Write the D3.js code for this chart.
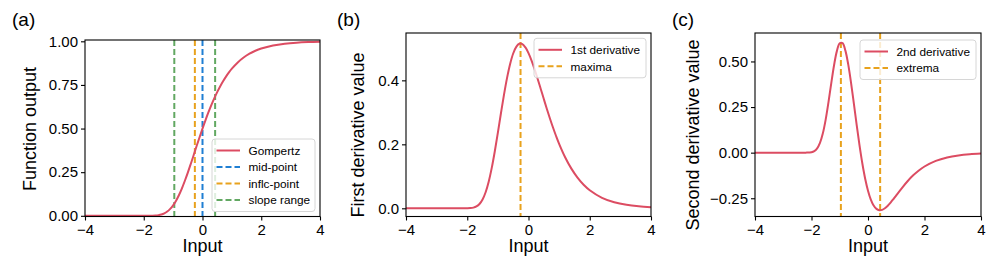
<html>
<head>
<meta charset="utf-8">
<script src="https://d3js.org/d3.v7.min.js"></script>
<style>
  body { margin: 0; background: #fff; }
  text { font-family: "Liberation Sans", Arial, sans-serif; fill: #000; }
  .tick line, .domain { stroke: #000; }
</style>
</head>
<body>
<svg id="chart" width="996" height="266"></svg>
<script>
// sampled input values (denser where the curves bend)
const xs = [-4, -3.6, -3.2, -2.8, -2.4, -2.2, -2.0, -1.9, -1.8, -1.7, -1.6, -1.5, -1.4, -1.3, -1.2, -1.1,
  -1.0, -0.9, -0.8, -0.7, -0.6, -0.5, -0.4, -0.3, -0.2, -0.1, 0, 0.1, 0.2, 0.3, 0.4, 0.5, 0.6, 0.7, 0.8, 0.9,
  1.0, 1.2, 1.4, 1.6, 1.8, 2.0, 2.4, 2.8, 3.2, 3.6, 4.0];

const gompertz = [0, 0, 0, 0, 0, 0.0000003, 0.0000112, 0.0000497, 0.000181, 0.000559, 0.00149, 0.00348, 0.00729, 0.01387, 0.02426, 0.03944,
  0.06016, 0.08685, 0.1195, 0.1577, 0.2008, 0.2476, 0.2972, 0.3482, 0.3997, 0.4505, 0.5, 0.5474, 0.5922, 0.6342, 0.6731, 0.7088, 0.7414, 0.7709, 0.7976, 0.8215,
  0.8429, 0.8788, 0.9070, 0.9289, 0.9458, 0.9587, 0.9762, 0.9863, 0.9922, 0.9955, 0.9974];

const firstDeriv = [0, 0, 0, 0, 0, 0.000006, 0.00018, 0.00069, 0.00219, 0.00586, 0.01355, 0.02759, 0.05024, 0.08308, 0.1263, 0.1785,
  0.2367, 0.2971, 0.3554, 0.4078, 0.4513, 0.4839, 0.5048, 0.5143, 0.5132, 0.5029, 0.4852, 0.4618, 0.4343, 0.4043, 0.3731, 0.3416, 0.3106, 0.2808, 0.2525, 0.2261,
  0.2017, 0.1589, 0.1240, 0.0960, 0.0738, 0.0566, 0.0329, 0.0190, 0.0109, 0.0063, 0.0036];

const secondDeriv = [0, 0, 0, 0, 0, 0.0001, 0.0026, 0.0086, 0.0233, 0.0533, 0.1046, 0.1800, 0.2758, 0.3813, 0.4808, 0.5581,
  0.6001, 0.6005, 0.5595, 0.4836, 0.3826, 0.2682, 0.1509, 0.0396, -0.0596, -0.1427, -0.2084, -0.2569, -0.2895, -0.3083, -0.3155, -0.3136, -0.3047, -0.2908, -0.2736, -0.2543,
  -0.2341, -0.1938, -0.1566, -0.1244, -0.0976, -0.0759, -0.0450, -0.0262, -0.0152, -0.0087, -0.0050];

const midPoint = 0;
const inflPoint = -0.26;
const slopeRange = [-0.96, 0.43];
const maxima = -0.26;
const extrema = [-0.96, 0.43];

const xTicks = [-4, -2, 0, 2, 4];
const yTicksA = [0, 0.25, 0.5, 0.75, 1.0];
const yTicksB = [0, 0.2, 0.4];
const yTicksC = [-0.25, 0, 0.25, 0.5];

const red = "#dc4c62", blue = "#1f7fd3", orange = "#e8a21d", green = "#62a862";

const svg = d3.select("#chart");

function drawPanel(p) {
  const x = d3.scaleLinear().domain([-4, 4]).range([p.left, p.right]);
  const y = d3.scaleLinear().domain(p.yDomain).range([p.bottom, p.top]);
  const g = svg.append("g");

  // vertical reference lines
  p.vlines.forEach(v => {
    g.append("line")
      .attr("x1", x(v.x)).attr("x2", x(v.x))
      .attr("y1", p.top).attr("y2", p.bottom)
      .attr("stroke", v.color).attr("stroke-width", 2)
      .attr("stroke-dasharray", "6,3");
  });

  const line = d3.line()
    .x((d, i) => x(xs[i]))
    .y(d => y(d))
    .curve(d3.curveCatmullRom);
  g.append("path")
    .datum(p.values)
    .attr("d", line)
    .attr("fill", "none")
    .attr("stroke", red)
    .attr("stroke-width", 2);

  // box
  g.append("rect")
    .attr("x", p.left).attr("y", p.top)
    .attr("width", p.right - p.left).attr("height", p.bottom - p.top)
    .attr("fill", "none").attr("stroke", "#000").attr("stroke-width", 1.1);

  const xAxis = g.append("g")
    .attr("transform", `translate(0,${p.bottom})`)
    .call(d3.axisBottom(x).tickValues(xTicks).tickSize(4).tickPadding(3.5).tickFormat(d3.format("d")));
  const yAxis = g.append("g")
    .attr("transform", `translate(${p.left},0)`)
    .call(d3.axisLeft(y).tickValues(p.yTicks).tickSize(4).tickPadding(3).tickFormat(d3.format(p.fmt)));
  [xAxis, yAxis].forEach(a => {
    a.select(".domain").remove();
    a.selectAll("text").style("font-size", "15px").style("font-family", '"Liberation Sans", Arial, sans-serif');
    a.selectAll(".tick line").attr("stroke-width", 1.1);
  });

  g.append("text")
    .attr("x", (p.left + p.right) / 2).attr("y", 252)
    .attr("text-anchor", "middle").style("font-size", "18px")
    .text("Input");
  g.append("text")
    .attr("transform", `translate(${p.ylabX},${p.ylabY}) rotate(-90)`)
    .attr("text-anchor", "middle").attr("dy", "0.35em").style("font-size", "18px")
    .text(p.ylabel);
  g.append("text")
    .attr("x", p.tagX).attr("y", 26)
    .style("font-size", "19px")
    .text(p.tag);

  // legend
  const items = p.legend;
  const rowH = 16.5;
  const h = 23 + (items.length - 1) * rowH;
  const lx = p.right - 5 - p.legendW;
  const ly = p.legendBottom ? p.bottom - 5 - h : p.top + p.legendTop;
  const leg = g.append("g");
  leg.append("rect")
    .attr("x", lx).attr("y", ly).attr("width", p.legendW).attr("height", h)
    .attr("rx", 3).attr("fill", "#fff").attr("fill-opacity", 0.8)
    .attr("stroke", "#d6d6d6").attr("stroke-width", 1);
  items.forEach((it, i) => {
    const cy = ly + 11.5 + i * rowH;
    leg.append("line")
      .attr("x1", lx + 4.5).attr("x2", lx + 28)
      .attr("y1", cy).attr("y2", cy)
      .attr("stroke", it.color).attr("stroke-width", 2)
      .attr("stroke-dasharray", it.dashed ? "6,3" : null);
    leg.append("text")
      .attr("x", lx + 36.5).attr("y", cy + 4.2)
      .style("font-size", "11.8px")
      .text(it.label);
  });
}

drawPanel({
  left: 85, right: 320, top: 40, bottom: 216.5,
  yDomain: [-0.004, 1.0075], yTicks: yTicksA, fmt: ".2f",
  values: gompertz, ylabel: "Function output", ylabX: 30, ylabY: 129, tag: "(a)", tagX: 12,
  vlines: [
    { x: slopeRange[0], color: green }, { x: slopeRange[1], color: green },
    { x: inflPoint, color: orange }, { x: midPoint, color: blue }
  ],
  legendBottom: true, legendW: 103,
  legend: [
    { label: "Gompertz", color: red },
    { label: "mid-point", color: blue, dashed: true },
    { label: "inflc-point", color: orange, dashed: true },
    { label: "slope range", color: green, dashed: true }
  ]
});

drawPanel({
  left: 406, right: 651, top: 33, bottom: 216.5,
  yDomain: [-0.0256, 0.548], yTicks: yTicksB, fmt: ".1f",
  values: firstDeriv, ylabel: "First derivative value", ylabX: 358, ylabY: 135, tag: "(b)", tagX: 337,
  vlines: [{ x: maxima, color: orange }],
  legendTop: 5.3, legendW: 112,
  legend: [
    { label: "1st derivative", color: red },
    { label: "maxima", color: orange, dashed: true }
  ]
});

drawPanel({
  left: 755, right: 981, top: 33, bottom: 216.5,
  yDomain: [-0.35, 0.656], yTicks: yTicksC, fmt: ".2f",
  values: secondDeriv, ylabel: "Second derivative value", ylabX: 693, ylabY: 135, tag: "(c)", tagX: 672,
  vlines: [{ x: extrema[0], color: orange }, { x: extrema[1], color: orange }],
  legendTop: 7, legendW: 116,
  legend: [
    { label: "2nd derivative", color: red },
    { label: "extrema", color: orange, dashed: true }
  ]
});
</script>
</body>
</html>
